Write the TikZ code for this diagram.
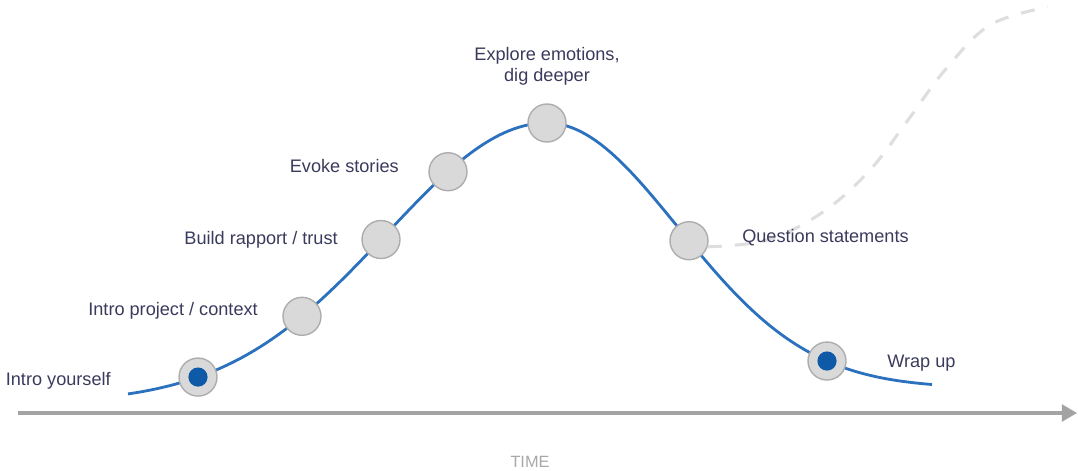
\documentclass[tikz,border=0pt]{standalone}
\usepackage{fontspec}
\setmainfont{Liberation Sans}
\usetikzlibrary{arrows.meta}
\definecolor{lineblue}{HTML}{2B71BD}
\definecolor{coreblue}{HTML}{0E5AA7}
\definecolor{stopfill}{HTML}{D9D9D9}
\definecolor{stopring}{HTML}{ADADAD}
\definecolor{axisgray}{HTML}{A3A3A3}
\definecolor{trailgray}{HTML}{DEDEDE}
\definecolor{inktext}{HTML}{3A3A5C}
\definecolor{timegray}{HTML}{A8A8A8}

\begin{document}
\begin{tikzpicture}[x=0.025cm, y=-0.025cm,
declare function={lft(\t)=403-280*exp(-0.5*((\t-547)/160)*((\t-547)/160));
	rgt(\t)=388-265*exp(-0.5*((\t-547)/131)*((\t-547)/131));},
stop/.style = {circle,
	minimum size = 0.95cm,
	inner sep=0pt,
	fill=stopfill,
	draw=stopring,
line width=1pt},
core/.style = {circle, minimum size=0.48cm, inner sep=0pt, fill=coreblue},
lbl/.style = {inner sep=0pt, text=inktext, font=\fontsize{12.9}{15}\selectfont},
axis/.style = {draw=axisgray, line width=2.4pt, -{Triangle[length=0.38cm, width=0.42cm]}},
trail/.style = {draw=trailgray, line width=2.2pt, dash pattern=on 0.35cm off 0.33cm}]

\useasboundingbox (0,0) rectangle (1078,470);

\coordinate (T0) at (18,413);
\coordinate (T1) at (1077,413);
\draw[axis] (T0) -- (T1);
\node (time) at (530,467) [anchor=base, inner sep=0pt, text=timegray, font=\fontsize{11.6}{13}\selectfont] {TIME};

\draw[lineblue, line width=2pt] plot[domain=128:547, samples=90] (\x,{lft(\x)})
	-- plot[domain=547:932, samples=80] (\x,{rgt(\x)});

\node (A) at (198,{lft(198)}) [stop] {};
\node (B) at (302,{lft(302)}) [stop] {};
\node (C) at (381,{lft(381)}) [stop] {};
\node (D) at (448,{lft(448)}) [stop] {};
\node (E) at (547,123) [stop] {};
\node (F) at (689,{rgt(689)}) [stop] {};
\node (G) at (827,{rgt(827)}) [stop] {};
\node (a) at (A) [core] {};
\node (g) at (G) [core] {};

\draw[trail] plot[smooth, tension=0.6] coordinates {(F.-18) (767,240) (823,212) (870,170) (908,120) (945,70) (990,25) (1048,7)};

\node (la) at (111,385) [lbl, anchor=base east] {Intro yourself};
\node (lb) at (258,315) [lbl, anchor=base east] {Intro project / context};
\node (lc) at (338,244) [lbl, anchor=base east] {Build rapport / trust};
\node (ld) at (399,172) [lbl, anchor=base east] {Evoke stories};
\node (le) at (547,47) [lbl, anchor=north, align=center] {Explore emotions,\\dig deeper};
\node (lf) at (742,242) [lbl, anchor=base west] {Question statements};
\node (lg) at (887,367) [lbl, anchor=base west] {Wrap up};
\end{tikzpicture}
\end{document}
